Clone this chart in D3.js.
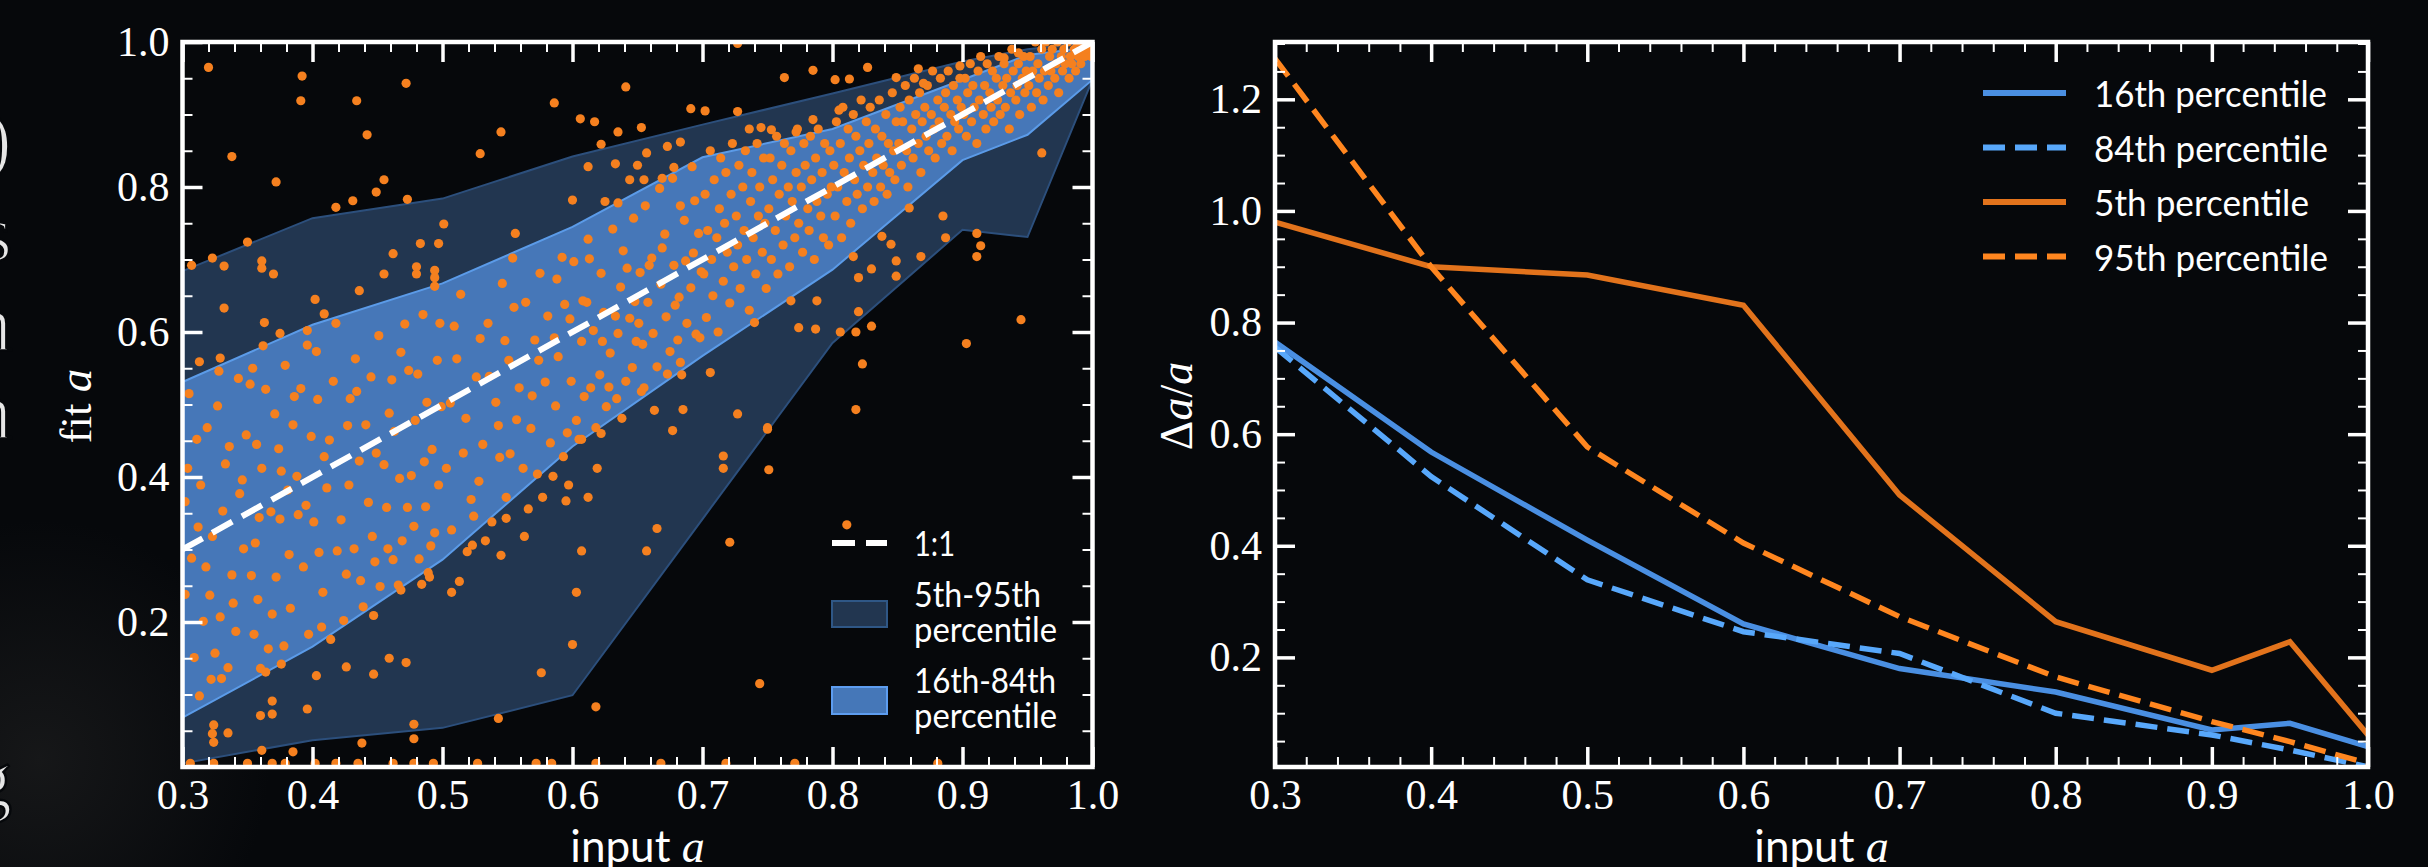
<!DOCTYPE html>
<html>
<head>
<meta charset="utf-8">
<script src="https://cdn.jsdelivr.net/npm/d3@7"></script>
<style>
  body { margin: 0; background: #06080b; }
  svg { display: block; }
</style>
</head>
<body>
<svg id="chart" width="2428" height="867"></svg>
<script>
// ---- data ----
var binInput = [0.3, 0.4, 0.5, 0.6, 0.7, 0.8, 0.9, 0.95, 1.0];

// left panel: percentile bands of fit a
var fitP5 = [0.005, 0.037, 0.054, 0.099, 0.342, 0.585, 0.741, 0.731, 0.948];
var fitP16 = [0.068, 0.166, 0.286, 0.442, 0.567, 0.686, 0.837, 0.872, 0.948];
var fitP84 = [0.531, 0.61, 0.667, 0.745, 0.841, 0.88, 0.948, 0.982, 0.993];
var fitP95 = [0.684, 0.757, 0.784, 0.842, 0.886, 0.929, 0.973, 0.99, 1.0];
var oneToOne = [0.3, 1.0];

// right panel: relative error delta a / a
var errP16 = [0.765, 0.568, 0.41, 0.26, 0.18, 0.138, 0.07, 0.082, 0.04];
var errP84 = [0.756, 0.524, 0.339, 0.246, 0.207, 0.1, 0.061, 0.034, 0.004];
var errP5 = [0.98, 0.9, 0.885, 0.831, 0.491, 0.264, 0.177, 0.228, 0.061];
var errP95 = [1.273, 0.9, 0.577, 0.405, 0.273, 0.165, 0.085, 0.049, 0.01];

// tick labels
var xTickLabels = [0.3, 0.4, 0.5, 0.6, 0.7, 0.8, 0.9, 1.0];
var fitTickLabels = [0.2, 0.4, 0.6, 0.8, 1.0];
var errTickLabels = [0.2, 0.4, 0.6, 0.8, 1.0, 1.2];

// scatter points (input a, fit a)
var scatterCoreA = [
  [0.304,0.412],[0.318,0.276],[0.309,0.151],[0.327,0.498],[0.331,0.353],[0.302,0.238],[0.341,0.187],[0.336,0.442],[0.314,0.389],[0.347,0.301],
  [0.322,0.121],[0.305,0.515],[0.352,0.528],[0.358,0.231],[0.344,0.377],[0.329,0.207],[0.361,0.412],[0.312,0.331],[0.366,0.163],[0.371,0.487],
  [0.338,0.265],[0.375,0.342],[0.319,0.468],[0.383,0.219],[0.356,0.309],[0.379,0.554],[0.388,0.401],[0.349,0.458],[0.393,0.276],[0.364,0.521],
  [0.397,0.183],[0.372,0.262],[0.385,0.472],[0.401,0.338],[0.391,0.522],[0.408,0.241],[0.376,0.408],[0.413,0.451],[0.403,0.573],[0.419,0.298],
  [0.395,0.361],[0.424,0.202],[0.416,0.532],[0.428,0.389],[0.409,0.428],[0.433,0.563],[0.437,0.257],[0.422,0.341],[0.441,0.472],[0.429,0.508],
  [0.446,0.318],[0.451,0.595],[0.439,0.221],[0.455,0.417],[0.448,0.283],[0.461,0.534],[0.457,0.358],[0.466,0.251],[0.463,0.463],[0.471,0.611],
  [0.469,0.312],[0.476,0.402],[0.474,0.547],[0.482,0.287],[0.479,0.478],[0.487,0.359],[0.485,0.624],[0.492,0.438],[0.489,0.268],[0.496,0.561],
  [0.494,0.323],[0.499,0.497],[0.307,0.288],[0.325,0.157],[0.343,0.536],[0.333,0.418],[0.316,0.201],[0.353,0.264],[0.368,0.352],[0.382,0.293],
  [0.399,0.456],[0.411,0.385],[0.427,0.471],[0.443,0.365],[0.458,0.301],[0.473,0.358],[0.486,0.421],[0.497,0.389],[0.302,0.366],[0.311,0.452],
  [0.323,0.318],[0.339,0.226],[0.357,0.445],[0.369,0.211],[0.378,0.167],[0.389,0.348],[0.405,0.296],[0.418,0.612],[0.432,0.301],[0.445,0.538],
  [0.452,0.249],[0.467,0.398],[0.481,0.542],[0.491,0.305],[0.335,0.137],[0.362,0.581],[0.386,0.511],[0.414,0.176],[0.436,0.422],[0.459,0.488],
  [0.478,0.332],[0.498,0.612],[0.313,0.098],[0.346,0.396],[0.374,0.439],[0.404,0.507],[0.426,0.266],[0.449,0.433],[0.468,0.572],[0.484,0.252],
  [0.328,0.546],[0.355,0.183],[0.381,0.382],[0.407,0.193],[0.434,0.518],[0.462,0.286],[0.488,0.503],[0.321,0.237],[0.359,0.344],[0.396,0.582]
];
var scatterCoreB = [
  [0.503,0.412],[0.511,0.563],[0.507,0.327],[0.518,0.481],[0.514,0.652],[0.522,0.369],[0.526,0.538],[0.519,0.297],[0.531,0.445],[0.535,0.612],
  [0.528,0.394],[0.541,0.503],[0.538,0.338],[0.546,0.667],[0.544,0.427],[0.551,0.561],[0.549,0.372],[0.557,0.479],[0.555,0.634],[0.562,0.412],
  [0.559,0.523],[0.566,0.356],[0.571,0.589],[0.568,0.467],[0.575,0.681],[0.573,0.404],[0.579,0.531],[0.583,0.447],[0.581,0.622],[0.587,0.498],
  [0.585,0.401],[0.592,0.703],[0.589,0.566],[0.596,0.461],[0.594,0.638],[0.599,0.532],[0.603,0.478],[0.601,0.697],[0.607,0.587],[0.605,0.452],
  [0.611,0.641],[0.614,0.523],[0.612,0.728],[0.618,0.468],[0.616,0.602],[0.622,0.681],[0.621,0.541],[0.626,0.497],[0.624,0.627],[0.631,0.742],
  [0.629,0.571],[0.634,0.508],[0.637,0.662],[0.635,0.598],[0.641,0.532],[0.639,0.712],[0.644,0.619],[0.647,0.757],[0.646,0.551],[0.652,0.682],
  [0.649,0.587],[0.655,0.523],[0.658,0.641],[0.656,0.774],[0.662,0.598],[0.661,0.702],[0.665,0.552],[0.668,0.666],[0.667,0.798],[0.672,0.621],
  [0.671,0.735],[0.675,0.573],[0.678,0.692],[0.677,0.812],[0.682,0.648],[0.681,0.589],[0.686,0.754],[0.688,0.612],[0.687,0.698],[0.692,0.828],
  [0.691,0.661],[0.695,0.597],[0.697,0.736],[0.699,0.683],[0.509,0.608],[0.533,0.312],[0.552,0.432],[0.577,0.372],[0.598,0.618],[0.619,0.412],
  [0.642,0.688],[0.663,0.492],[0.684,0.541],[0.506,0.502],[0.529,0.591],[0.554,0.702],[0.574,0.561],[0.597,0.389],[0.623,0.587],[0.648,0.642],
  [0.669,0.716],[0.694,0.781],[0.516,0.433],[0.543,0.471],[0.564,0.641],[0.588,0.673],[0.609,0.511],[0.633,0.622],[0.654,0.583],[0.679,0.637],
  [0.698,0.592],[0.524,0.346],[0.548,0.588],[0.569,0.512],[0.593,0.428],[0.613,0.701],[0.638,0.481],[0.659,0.692],[0.683,0.774],[0.536,0.539],
  [0.563,0.318],[0.586,0.592],[0.608,0.643],[0.628,0.524],[0.651,0.612],[0.673,0.542],[0.693,0.709]
];
var scatterCoreC = [
  [0.701,0.68],[0.702,0.79],[0.703,0.62],[0.704,0.74],[0.706,0.85],[0.707,0.70],[0.708,0.65],[0.709,0.81],[0.711,0.73],[0.712,0.60],
  [0.713,0.77],[0.714,0.84],[0.716,0.67],[0.717,0.75],[0.718,0.82],[0.719,0.71],[0.721,0.64],[0.722,0.79],[0.723,0.86],[0.724,0.69],
  [0.726,0.76],[0.727,0.72],[0.728,0.83],[0.729,0.66],[0.731,0.80],[0.732,0.74],[0.733,0.85],[0.734,0.70],[0.736,0.63],[0.737,0.78],
  [0.738,0.82],[0.739,0.73],[0.741,0.68],[0.742,0.86],[0.743,0.76],[0.744,0.80],[0.746,0.71],[0.747,0.84],[0.748,0.75],[0.749,0.66],
  [0.751,0.77],[0.752,0.84],[0.753,0.70],[0.754,0.81],[0.756,0.74],[0.757,0.87],[0.758,0.68],[0.759,0.79],[0.761,0.83],[0.762,0.72],
  [0.763,0.86],[0.764,0.76],[0.766,0.80],[0.767,0.69],[0.768,0.85],[0.769,0.78],[0.771,0.73],[0.772,0.82],[0.773,0.88],[0.774,0.75],
  [0.776,0.80],[0.777,0.71],[0.778,0.86],[0.779,0.83],[0.781,0.77],[0.782,0.74],[0.783,0.87],[0.784,0.81],[0.786,0.70],[0.787,0.84],
  [0.788,0.78],[0.789,0.88],[0.791,0.76],[0.792,0.82],[0.793,0.73],[0.794,0.86],[0.796,0.79],[0.797,0.72],[0.798,0.85],[0.799,0.80],
  [0.801,0.83],[0.802,0.76],[0.803,0.89],[0.804,0.80],[0.806,0.86],[0.807,0.73],[0.808,0.91],[0.809,0.82],[0.811,0.78],[0.812,0.88],
  [0.813,0.84],[0.814,0.75],[0.816,0.90],[0.817,0.81],[0.818,0.87],[0.819,0.79],[0.821,0.85],[0.822,0.92],[0.823,0.77],[0.824,0.83],
  [0.826,0.89],[0.827,0.80],[0.828,0.86],[0.829,0.91],[0.831,0.82],[0.832,0.78],[0.833,0.88],[0.834,0.84],[0.836,0.92],[0.837,0.80],
  [0.838,0.87],[0.839,0.83],[0.841,0.90],[0.842,0.79],[0.843,0.86],[0.844,0.82],[0.846,0.93],[0.847,0.85],[0.848,0.81],[0.849,0.89],
  [0.851,0.86],[0.852,0.91],[0.853,0.83],[0.854,0.89],[0.856,0.94],[0.857,0.85],[0.858,0.80],[0.859,0.92],[0.861,0.88],[0.862,0.84],
  [0.863,0.95],[0.864,0.90],[0.866,0.86],[0.867,0.93],[0.868,0.82],[0.869,0.89],[0.871,0.91],[0.872,0.87],[0.873,0.94],[0.874,0.85],
  [0.876,0.90],[0.877,0.96],[0.878,0.88],[0.879,0.84],[0.881,0.92],[0.882,0.89],[0.883,0.95],[0.884,0.86],[0.886,0.91],[0.887,0.93],
  [0.888,0.87],[0.889,0.96],[0.891,0.90],[0.892,0.85],[0.893,0.94],[0.894,0.89],[0.896,0.92],[0.897,0.88],[0.898,0.95],[0.899,0.91],
  [0.901,0.90],[0.902,0.95],[0.903,0.87],[0.904,0.93],[0.906,0.97],[0.907,0.89],[0.908,0.94],[0.909,0.91],[0.911,0.86],[0.912,0.96],
  [0.913,0.92],[0.914,0.98],[0.916,0.90],[0.917,0.94],[0.918,0.88],[0.919,0.97],[0.921,0.93],[0.922,0.91],[0.923,0.96],[0.924,0.89],
  [0.926,0.95],[0.927,0.92],[0.928,0.98],[0.929,0.90],[0.931,0.94],[0.932,0.97],[0.933,0.91],[0.934,0.95],[0.936,0.88],[0.937,0.93],
  [0.938,0.99],[0.939,0.96],[0.941,0.92],[0.942,0.94],[0.943,0.97],[0.944,0.90],[0.946,0.95],[0.947,0.98],[0.948,0.93],[0.949,0.96],
  [0.951,0.94],[0.952,0.98],[0.953,0.91],[0.954,0.96],[0.956,1.00],[0.957,0.93],[0.958,0.97],[0.959,0.95],[0.961,0.99],[0.962,0.92],
  [0.963,0.96],[0.964,1.00],[0.966,0.94],[0.967,0.98],[0.968,0.96],[0.969,0.99],[0.971,0.95],[0.972,0.97],[0.973,1.00],[0.974,0.93],
  [0.976,0.98],[0.977,0.96],[0.978,0.99],[0.979,0.97],[0.981,1.00],[0.982,0.95],[0.983,0.98],[0.984,0.97],[0.986,0.99],[0.987,0.96],
  [0.988,1.00],[0.989,0.98],[0.991,0.97],[0.992,0.99],[0.993,1.00],[0.994,0.98],[0.996,0.99],[0.997,1.00],[0.998,0.99],[0.999,0.98]
];
var scatterAbove = [
  [0.320,0.965],[0.338,0.842],[0.392,0.953],[0.391,0.919],[0.372,0.807],[0.434,0.919],[0.442,0.872],[0.472,0.943],[0.455,0.810],[0.449,0.793],
  [0.418,0.772],[0.431,0.781],[0.473,0.783],[0.350,0.724],[0.323,0.702],[0.307,0.692],[0.332,0.691],[0.361,0.698],[0.361,0.688],[0.370,0.680],
  [0.529,0.846],[0.545,0.876],[0.586,0.916],[0.606,0.894],[0.617,0.890],[0.641,0.938],[0.635,0.876],[0.653,0.882],[0.691,0.908],[0.622,0.859],
  [0.612,0.828],[0.633,0.832],[0.650,0.830],[0.657,0.847],[0.673,0.856],[0.683,0.862],[0.678,0.827],[0.600,0.782],[0.625,0.780],[0.635,0.778],
  [0.644,0.810],[0.655,0.810],[0.669,0.812],[0.556,0.736],[0.501,0.749],[0.483,0.722],[0.497,0.722],[0.462,0.708],[0.455,0.680],[0.480,0.690],
  [0.480,0.680],[0.494,0.685],[0.494,0.675],[0.494,0.663],[0.436,0.657],[0.402,0.645],[0.409,0.625],[0.332,0.633],[0.363,0.613],[0.375,0.598],
  [0.396,0.602],[0.313,0.559],[0.329,0.564],[0.354,0.550],[0.727,0.998],[0.702,0.905],[0.727,0.904],[0.763,0.951],[0.785,0.961],[0.802,0.948],
  [0.813,0.949],[0.827,0.965],[0.866,0.963],[0.849,0.951],[0.870,0.943],[0.898,0.967],[0.932,0.978],[0.943,0.985],[0.736,0.880],[0.745,0.882],
  [0.753,0.879],[0.772,0.876],[0.785,0.893],[0.805,0.906]
];
var scatterBelow = [
  [0.961,0.847],[0.945,0.617],[0.903,0.584],[0.859,0.771],[0.885,0.760],[0.887,0.730],[0.911,0.736],[0.914,0.719],[0.911,0.704],[0.868,0.704],
  [0.838,0.732],[0.845,0.721],[0.816,0.704],[0.849,0.698],[0.849,0.677],[0.830,0.687],[0.820,0.675],[0.820,0.628],[0.830,0.608],[0.818,0.600],
  [0.806,0.600],[0.787,0.604],[0.774,0.606],[0.788,0.643],[0.768,0.643],[0.740,0.613],[0.823,0.556],[0.818,0.493],[0.750,0.466],[0.727,0.487],
  [0.685,0.493],[0.677,0.464],[0.706,0.544],[0.683,0.558],[0.653,0.518],[0.622,0.460],[0.607,0.452],[0.595,0.367],[0.612,0.372],[0.665,0.329],
  [0.607,0.298],[0.657,0.298],[0.603,0.241],[0.600,0.169],[0.618,0.083],[0.576,0.130],[0.549,0.343],[0.545,0.292],[0.523,0.306],[0.513,0.256],
  [0.507,0.241],[0.490,0.262],[0.468,0.244],[0.447,0.209],[0.459,0.150],[0.472,0.144],[0.447,0.128],[0.426,0.138],[0.403,0.126],[0.376,0.142],
  [0.360,0.136],[0.364,0.131],[0.396,0.080],[0.369,0.091],[0.369,0.073],[0.360,0.071],[0.324,0.058],[0.323,0.046],[0.324,0.034],[0.335,0.047],
  [0.330,0.122],[0.543,0.067],[0.478,0.059],[0.478,0.039],[0.438,0.033],[0.385,0.021],[0.361,0.023],[0.750,0.468],[0.716,0.429],[0.716,0.412],
  [0.751,0.410],[0.721,0.310],[0.811,0.334],[0.744,0.115]
];
var scatterFloor = [
  [0.306,0.005],[0.324,0.005],[0.350,0.005],[0.369,0.005],[0.379,0.005],[0.402,0.005],[0.418,0.005],[0.435,0.005],[0.462,0.005],[0.478,0.005],
  [0.493,0.005],[0.527,0.005],[0.572,0.005],[0.584,0.005],[0.618,0.005],[0.668,0.005],[0.718,0.005],[0.771,0.005],[0.881,0.005]
];

// ---- layout ----
var svg = d3.select("#chart");
var width = 2428, height = 867;
var leftBox = { x0: 182.5, x1: 1092.5, y0: 42, y1: 767 };
var rightBox = { x0: 1275, x1: 2368, y0: 42, y1: 767 };

var defs = svg.append("defs");

// background + faint glow bottom left (slide photo)
var glow = defs.append("radialGradient").attr("id", "glow")
  .attr("cx", 0.5).attr("cy", 0.5).attr("r", 0.5);
glow.append("stop").attr("offset", "0%").attr("stop-color", "#262626").attr("stop-opacity", 0.5);
glow.append("stop").attr("offset", "100%").attr("stop-color", "#262626").attr("stop-opacity", 0);

svg.append("rect").attr("width", width).attr("height", height).attr("fill", "#06080b");
svg.append("ellipse").attr("cx", 40).attr("cy", 760).attr("rx", 230).attr("ry", 240)
  .attr("fill", "url(#glow)");

// bits of the slide text cut at the left edge (thinned with a bg-coloured stroke)
var edgeGlyphs = [[")", 166], ["s", 260], ["n", 350], ["n", 438], ["g", 806]];
svg.selectAll(".edge-glyph")
  .data(edgeGlyphs)
  .enter()
  .append("text")
  .attr("class", "edge-glyph")
  .attr("x", 12)
  .attr("y", function (d) { return d[1]; })
  .attr("text-anchor", "end")
  .attr("font-family", "Liberation Serif")
  .attr("font-size", 80)
  .attr("fill", "#e6e6e6")
  .attr("stroke", "#06080b")
  .attr("stroke-width", 2.5)
  .text(function (d) { return d[0]; });

function clipFor(id, box) {
  defs.append("clipPath").attr("id", id)
    .append("rect")
    .attr("x", box.x0).attr("y", box.y0)
    .attr("width", box.x1 - box.x0).attr("height", box.y1 - box.y0);
}
clipFor("clip-left", leftBox);
clipFor("clip-right", rightBox);

var fmt = d3.format(".1f");
var tickFont = "Liberation Serif";
var sansFont = "Lato, 'DejaVu Sans', sans-serif";

// inward ticks on all four sides, labels only on bottom/left
function drawAxes(x, y, box, yMajor, yMinor) {
  var xMinor = d3.range(15, 51).filter(function (i) { return i % 5 !== 0; })
    .map(function (i) { return i / 50; });
  var g = svg.append("g");

  function styleAxis(sel, major) {
    sel.select(".domain").remove();
    sel.selectAll(".tick line")
      .attr("stroke", "#ffffff")
      .attr("stroke-width", major ? 3.5 : 2);
    sel.selectAll(".tick text")
      .attr("fill", "#ffffff")
      .attr("font-family", tickFont)
      .attr("font-size", 42);
  }

  g.append("g").attr("transform", "translate(0," + box.y1 + ")")
    .call(d3.axisBottom(x).tickValues(xTickLabels).tickSize(-20).tickPadding(12).tickFormat(fmt))
    .call(styleAxis, true);
  g.append("g").attr("transform", "translate(0," + box.y1 + ")")
    .call(d3.axisBottom(x).tickValues(xMinor).tickSize(-10).tickFormat(""))
    .call(styleAxis, false);
  g.append("g").attr("transform", "translate(0," + box.y0 + ")")
    .call(d3.axisTop(x).tickValues(xTickLabels).tickSize(-20).tickFormat(""))
    .call(styleAxis, true);
  g.append("g").attr("transform", "translate(0," + box.y0 + ")")
    .call(d3.axisTop(x).tickValues(xMinor).tickSize(-10).tickFormat(""))
    .call(styleAxis, false);

  g.append("g").attr("transform", "translate(" + box.x0 + ",0)")
    .call(d3.axisLeft(y).tickValues(yMajor).tickSize(-20).tickPadding(13).tickFormat(fmt))
    .call(styleAxis, true);
  g.append("g").attr("transform", "translate(" + box.x0 + ",0)")
    .call(d3.axisLeft(y).tickValues(yMinor).tickSize(-10).tickFormat(""))
    .call(styleAxis, false);
  g.append("g").attr("transform", "translate(" + box.x1 + ",0)")
    .call(d3.axisRight(y).tickValues(yMajor).tickSize(-20).tickFormat(""))
    .call(styleAxis, true);
  g.append("g").attr("transform", "translate(" + box.x1 + ",0)")
    .call(d3.axisRight(y).tickValues(yMinor).tickSize(-10).tickFormat(""))
    .call(styleAxis, false);

  // frame
  g.append("rect")
    .attr("x", box.x0).attr("y", box.y0)
    .attr("width", box.x1 - box.x0).attr("height", box.y1 - box.y0)
    .attr("fill", "none")
    .attr("stroke", "#ffffff")
    .attr("stroke-width", 4.5);
}

function axisTitle(cx, cy, rotate, parts) {
  var t = svg.append("text")
    .attr("transform", "translate(" + cx + "," + cy + ")" + (rotate ? " rotate(-90)" : ""))
    .attr("text-anchor", "middle")
    .attr("fill", "#ffffff");
  parts.forEach(function (p) {
    t.append("tspan")
      .attr("font-family", p.font)
      .attr("font-size", p.size)
      .attr("font-style", p.italic ? "italic" : "normal")
      .text(p.text);
  });
}

// ================= left panel: fit a vs input a =================
var xL = d3.scaleLinear().domain([0.3, 1.0]).range([leftBox.x0, leftBox.x1]);
var yL = d3.scaleLinear().domain([0, 1]).range([leftBox.y1, leftBox.y0]);

var plotL = svg.append("g").attr("clip-path", "url(#clip-left)");

function band(lo, hi) {
  return d3.area()
    .x(function (d, i) { return xL(binInput[i]); })
    .y0(function (d, i) { return yL(lo[i]); })
    .y1(function (d, i) { return yL(hi[i]); })(binInput);
}

plotL.append("path")
  .attr("d", band(fitP5, fitP95))
  .attr("fill", "#223650")
  .attr("stroke", "#2c4f7c")
  .attr("stroke-width", 2);

plotL.append("path")
  .attr("d", band(fitP16, fitP84))
  .attr("fill", "#4677b8")
  .attr("stroke", "#5b9be8")
  .attr("stroke-width", 2);

var allPoints = scatterCoreA.concat(scatterCoreB, scatterCoreC, scatterAbove, scatterBelow, scatterFloor);
plotL.selectAll(".pt")
  .data(allPoints)
  .enter()
  .append("circle")
  .attr("class", "pt")
  .attr("cx", function (d) { return xL(d[0]); })
  .attr("cy", function (d) { return yL(d[1]); })
  .attr("r", 4.6)
  .attr("fill", "#f5801f");

plotL.append("path")
  .attr("d", d3.line()
    .x(function (d) { return xL(d); })
    .y(function (d) { return yL(d); })(oneToOne))
  .attr("fill", "none")
  .attr("stroke", "#ffffff")
  .attr("stroke-width", 6)
  .attr("stroke-dasharray", "23,11");

var fitMinor = d3.range(1, 20).filter(function (i) { return i % 4 !== 0; })
  .map(function (i) { return i / 20; });
drawAxes(xL, yL, leftBox, fitTickLabels, fitMinor);

axisTitle(637.5, 862, false, [
  { text: "input ", font: sansFont, size: 44 },
  { text: "a", font: tickFont, size: 46, italic: true }
]);
axisTitle(91, 406, true, [
  { text: "fit ", font: tickFont, size: 45 },
  { text: "a", font: tickFont, size: 47, italic: true }
]);

// left legend
var legL = svg.append("g");
legL.append("line")
  .attr("x1", 832).attr("x2", 887).attr("y1", 543).attr("y2", 543)
  .attr("stroke", "#ffffff").attr("stroke-width", 6).attr("stroke-dasharray", "23,11");
legL.append("rect").attr("x", 832).attr("y", 601).attr("width", 55).attr("height", 26)
  .attr("fill", "#223650").attr("stroke", "#2f5786").attr("stroke-width", 2);
legL.append("rect").attr("x", 832).attr("y", 687).attr("width", 55).attr("height", 27)
  .attr("fill", "#4577b8").attr("stroke", "#5d9df0").attr("stroke-width", 2);

var legLText = [
  ["1:1", 556, 41],
  ["5th-95th", 607, 127],
  ["percentile", 642, 143],
  ["16th-84th", 693, 142],
  ["percentile", 728, 143]
];
legL.selectAll(".leg-text")
  .data(legLText)
  .enter()
  .append("text")
  .attr("x", 914)
  .attr("y", function (d) { return d[1]; })
  .attr("textLength", function (d) { return d[2]; })
  .attr("lengthAdjust", "spacingAndGlyphs")
  .attr("font-family", sansFont)
  .attr("font-size", 34)
  .attr("fill", "#ffffff")
  .text(function (d) { return d[0]; });

// ================= right panel: delta a / a vs input a =================
var xR = d3.scaleLinear().domain([0.3, 1.0]).range([rightBox.x0, rightBox.x1]);
var yR = d3.scaleLinear().domain([0.0036, 1.3027]).range([rightBox.y1, rightBox.y0]);

var plotR = svg.append("g").attr("clip-path", "url(#clip-right)");

var errSeries = [
  { values: errP16, color: "#4a8fe2", dash: null, label: "16th percentile", len: 233 },
  { values: errP84, color: "#58a8fb", dash: "22,10", label: "84th percentile", len: 234 },
  { values: errP5, color: "#e2731c", dash: null, label: "5th percentile", len: 215 },
  { values: errP95, color: "#ff861f", dash: "22,10", label: "95th percentile", len: 234 }
];

var errLine = d3.line()
  .x(function (d, i) { return xR(binInput[i]); })
  .y(function (d) { return yR(d); });

plotR.selectAll(".err-line")
  .data(errSeries)
  .enter()
  .append("path")
  .attr("class", "err-line")
  .attr("d", function (d) { return errLine(d.values); })
  .attr("fill", "none")
  .attr("stroke", function (d) { return d.color; })
  .attr("stroke-width", 5.5)
  .attr("stroke-dasharray", function (d) { return d.dash; });

var errMinor = d3.range(1, 27).filter(function (i) { return i % 4 !== 0; })
  .map(function (i) { return i / 20; });
drawAxes(xR, yR, rightBox, errTickLabels, errMinor);

axisTitle(1821.5, 862, false, [
  { text: "input ", font: sansFont, size: 44 },
  { text: "a", font: tickFont, size: 46, italic: true }
]);
axisTitle(1192, 406, true, [
  { text: "\u0394", font: tickFont, size: 46 },
  { text: "a", font: tickFont, size: 46, italic: true },
  { text: "/", font: tickFont, size: 46 },
  { text: "a", font: tickFont, size: 46, italic: true }
]);

// right legend
var legR = svg.append("g").selectAll("g")
  .data(errSeries)
  .enter()
  .append("g")
  .attr("transform", function (d, i) { return "translate(0," + (93 + i * 54.5) + ")"; });

legR.append("line")
  .attr("x1", 1983).attr("x2", 2066).attr("y1", 0).attr("y2", 0)
  .attr("stroke", function (d) { return d.color; })
  .attr("stroke-width", 6)
  .attr("stroke-dasharray", function (d) { return d.dash; });

legR.append("text")
  .attr("x", 2094)
  .attr("y", 14)
  .attr("textLength", function (d) { return d.len; })
  .attr("lengthAdjust", "spacingAndGlyphs")
  .attr("font-family", sansFont)
  .attr("font-size", 37)
  .attr("fill", "#ffffff")
  .text(function (d) { return d.label; });
</script>
</body>
</html>
